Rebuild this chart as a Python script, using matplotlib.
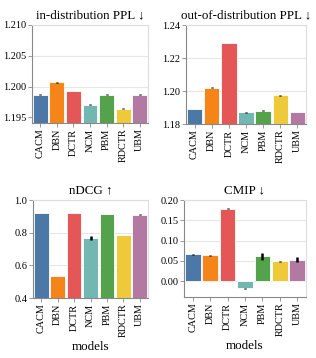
import matplotlib
matplotlib.use('Agg')
import matplotlib.pyplot as plt

plt.rcParams['font.family'] = ['Liberation Serif', 'DejaVu Serif']

models = ['CACM', 'DBN', 'DCTR', 'NCM', 'PBM', 'RDCTR', 'UBM']
colors = ['#4c78a8', '#f58518', '#e45756', '#72b7b2', '#54a24b', '#eeca3b', '#b279a2']

# 各指标数值
ppl_in = [1.1987, 1.2007, 1.1993, 1.1971, 1.1987, 1.1964, 1.1987]
ppl_in_err = [0.00006, 0.00008, 0.00006, 0.00006, 0.00006, 0.00006, 0.00006]
ppl_out = [1.1890, 1.2021, 1.2292, 1.1872, 1.1880, 1.1973, 1.1872]
ppl_out_err = [0.0001, 0.0002, 0.0001, 0.0003, 0.0004, 0.0001, 0.0002]
ndcg = [0.921, 0.536, 0.921, 0.770, 0.915, 0.786, 0.910]
ndcg_err = [0.001, 0.001, 0.001, 0.012, 0.002, 0.001, 0.002]
cmip = [0.0665, 0.0640, 0.1780, -0.0180, 0.0610, 0.0490, 0.0525]
cmip_err = [0.001, 0.0015, 0.0012, 0.0008, 0.008, 0.0015, 0.006]

panels = [
    ('in-distribution PPL \u2193', ppl_in, ppl_in_err, (1.1941, 1.210), [1.195, 1.200, 1.205, 1.210], '%.3f', False),
    ('out-of-distribution PPL \u2193', ppl_out, ppl_out_err, (1.18, 1.24), [1.18, 1.20, 1.22, 1.24], '%.2f', False),
    ('nDCG \u2191', ndcg, ndcg_err, (0.4, 1.0), [0.4, 0.6, 0.8, 1.0], '%.1f', True),
    ('CMIP \u2193', cmip, cmip_err, (-0.039, 0.20), [0.0, 0.05, 0.10, 0.15, 0.20], '%.2f', True),
]

# axes positions in pixels: left, top, right, bottom
W, H = 316, 358
boxes = [(32, 25, 148, 123), (186, 25, 306, 124), (33, 200, 148, 298), (184, 200, 306, 297)]

fig = plt.figure(figsize=(W / 100, H / 100), dpi=100)

for (title, vals, errs, ylim, ticks, fmt, show_xlabel), (l, t, r, b) in zip(panels, boxes):
    ax = fig.add_axes([l / W, 1 - b / H, (r - l) / W, (b - t) / H])
    x = range(len(models))
    base = ylim[0] if ylim[0] > 0 else 0
    heights = [v - base for v in vals]
    ax.bar(x, heights, bottom=base, width=0.9, color=colors, edgecolor='white', linewidth=0.6, zorder=2)
    ax.errorbar(x, vals, yerr=errs, fmt='none', ecolor='black', elinewidth=1.8, capsize=0, zorder=3)
    ax.set_xlim(-0.5, len(models) - 0.5)
    ax.set_ylim(*ylim)
    ax.set_yticks(ticks)
    ax.set_yticklabels([fmt % v for v in ticks])
    ax.set_xticks(list(x))
    ax.set_xticklabels(models, rotation=90)
    ax.grid(axis='y', color='#e6e6e6', linewidth=0.8, zorder=0)
    ax.set_axisbelow(True)
    for s in ax.spines.values():
        s.set_color('#dddddd')
        s.set_linewidth(0.8)
    ax.spines['left'].set_color('#888888')
    ax.spines['bottom'].set_color('#888888')
    ax.tick_params(axis='y', length=3, width=0.6, color='#888888', labelsize=7.5, pad=1)
    ax.tick_params(axis='x', length=3, width=0.6, color='#888888', labelsize=7.3, pad=1)
    ax.set_title(title, fontsize=9.4, pad=5)
    if show_xlabel:
        ax.set_xlabel('models', fontsize=9.4, labelpad=3)

plt.savefig('out.png', dpi=100)
